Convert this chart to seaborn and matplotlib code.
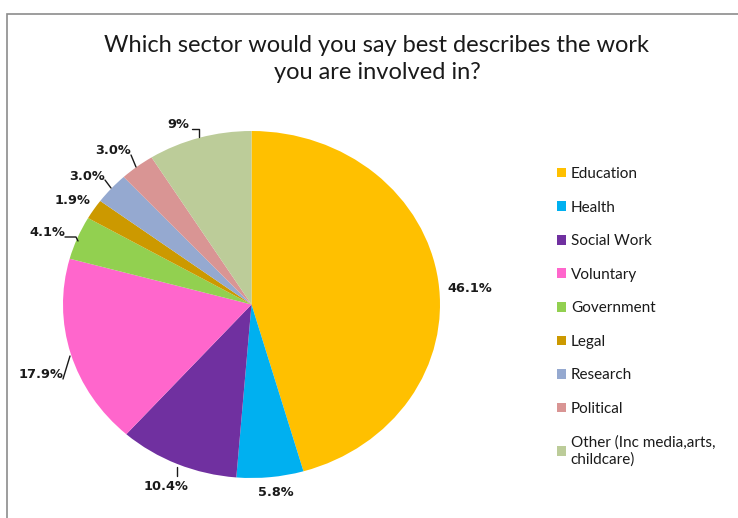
import matplotlib
matplotlib.use("Agg")
import matplotlib.pyplot as plt
import seaborn as sns
from matplotlib.patches import Rectangle

sectors = ["Education", "Health", "Social Work", "Voluntary", "Government",
           "Legal", "Research", "Political", "Other (Inc media,arts,\nchildcare)"]
values = [46.1, 5.8, 10.4, 17.9, 4.1, 1.9, 3.0, 3.0, 9.0]
value_labels = ["46.1%", "5.8%", "10.4%", "17.9%", "4.1%", "1.9%", "3.0%", "3.0%", "9%"]
colors = ["#FFC000", "#00B0F0", "#7030A0", "#FF66CC", "#92D050",
          "#CC9900", "#95A9D0", "#D99594", "#BCCC99"]
title = "Which sector would you say best describes the work\nyou are involved in?"

sns.set_style("white")
plt.rcParams["font.family"] = ["Lato", "DejaVu Sans"]

W, H = 738, 518
fig = plt.figure(figsize=(W / 100, H / 100), dpi=100)
fig.patch.set_facecolor("white")

# outer chart frame
fig.patches.append(Rectangle((7 / W, -0.1), 1.2, 1 - 14 / H + 0.1, transform=fig.transFigure,
                             fill=False, edgecolor="#8c8c8c", linewidth=1.2))

cx, cy, rx, ry = 251.5, 304.5, 188.5, 173.5
ax = fig.add_axes([(cx - rx) / W, 1 - (cy + ry) / H, 2 * rx / W, 2 * ry / H])
wedges, _ = ax.pie(values, colors=colors, startangle=90, counterclock=False,
                   wedgeprops=dict(linewidth=0))
ax.set_aspect("auto")
ax.set_xlim(-1, 1)
ax.set_ylim(-1, 1)
ax.axis("off")


def px(x, y):
    return (x - cx) / rx, (cy - y) / ry


# label positions (pixel centres) and leader lines
label_pos = [(470, 288), (276, 492), (166, 486), (41, 374), (47, 233),
             (73, 200), (87, 176), (113, 150), (178, 124)]
for txt, (x, y) in zip(value_labels, label_pos):
    lx, ly = px(x, y)
    ax.text(lx, ly, txt, ha="center", va="center", fontsize=9.3, fontweight="bold",
            family="DejaVu Sans", color="#1a1a1a", clip_on=False)

leaders = [
    [(177, 467), (177, 476)],
    [(63, 379), (70, 356)],
    [(65, 237), (76, 237), (78, 241)],
    [(105, 180), (111, 188)],
    [(131, 155), (136, 167)],
    [(192, 129), (199, 129), (199, 137)],
]
for seg in leaders:
    pts = [px(x, y) for x, y in seg]
    ax.plot([p[0] for p in pts], [p[1] for p in pts], color="#1a1a1a",
            linewidth=1.0, clip_on=False)

fig.text(377 / W, 1 - 59 / H, title, ha="center", va="center", fontsize=17,
         linespacing=1.4, color="#1a1a1a")

leg = fig.legend(wedges, sectors, loc="upper left",
                 bbox_to_anchor=(557 / W, 1 - 167 / H), frameon=False,
                 handlelength=0.6, handleheight=0.6, handletextpad=0.3,
                 labelspacing=1.28, fontsize=11, borderpad=0, borderaxespad=0)
for t in leg.get_texts():
    t.set_color("#1a1a1a")

fig.savefig("out.png", dpi=100, facecolor="white")
